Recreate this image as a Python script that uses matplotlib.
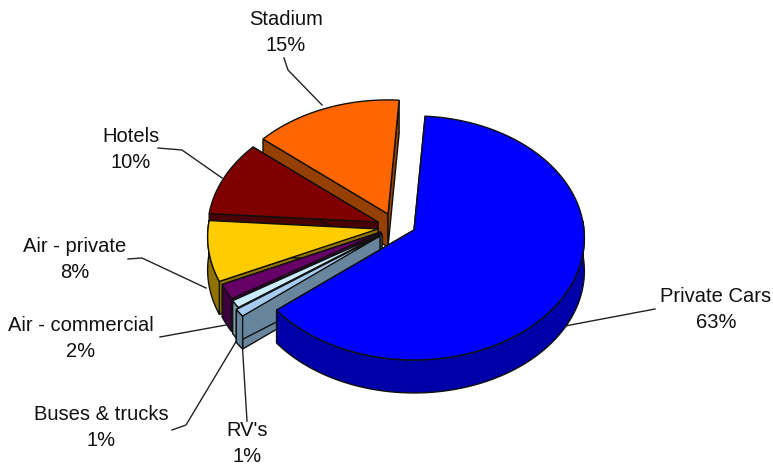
import numpy as np
import matplotlib
matplotlib.use("Agg")
import matplotlib.pyplot as plt

plt.rcParams['font.family'] = ['Liberation Sans', 'DejaVu Sans']

# pie values, in the order they run clockwise
labels = ["Private Cars", "RV's", "Buses & trucks", "Air - commercial", "Air - private", "Hotels", "Stadium"]
values = [63, 1, 1, 2, 8, 10, 15]

top_colors = ["#0000ff", "#a6caf0", "#ccecff", "#660066", "#ffcc00", "#800000", "#ff6600"]
wall_colors = ["#0000a8", "#67859c", "#7f9aa8", "#3c003c", "#8f7200", "#480000", "#954000"]

# where each slice's point sits after the explosion
apex_x = [414, 380, 382, 381, 378, 378, 388]
apex_y = [230, 236, 234, 232, 229, 222, 214]

start_angle = 4
A, B = 170, 121.5
persp = 0.065
depth = 33


def rim(cx, cy, deg):
    t = np.radians(deg)
    u = np.sin(t)
    v = -np.cos(t)
    w = 1 - persp * v
    return cx + A * u / w, cy + B * v / w


fig = plt.figure(figsize=(7.73, 4.66), dpi=100)
ax = fig.add_axes([0, 0, 1, 1])
ax.set_xlim(0, 773)
ax.set_ylim(466, 0)
ax.axis("off")

# leader lines go under the slices
leaders = [
    ([655, 565], [309, 326]),
    ([247, 242], [421, 340]),
    ([172, 186, 240], [430, 425, 335]),
    ([160, 226], [337, 325]),
    ([128, 142, 206], [259, 258, 288]),
    ([158, 182, 222], [148, 150, 178]),
    ([284, 288, 322], [58, 70, 105]),
]
for lx, ly in leaders:
    ax.plot(lx, ly, color="#222222", lw=1.0, zorder=1)

edges = np.cumsum([0] + values) * 3.6 + start_angle

# paint back to front: stadium first, private cars last
for i in [6, 5, 4, 3, 2, 1, 0]:
    cx, cy = apex_x[i], apex_y[i]
    a = np.linspace(edges[i], edges[i + 1], max(int(values[i] * 6), 6))
    rx, ry = rim(cx, cy, a)
    z = 2 + (6 - i)

    # the two cut faces
    for j in [0, -1]:
        ax.fill([cx, rx[j], rx[j], cx], [cy, ry[j], ry[j] + depth, cy + depth],
                fc=wall_colors[i], ec="#101010", lw=1.0, zorder=z)
    # outer wall, only the part of the rim facing the viewer
    front = np.cos(np.radians(a)) < 0.08
    if front.sum() > 1:
        fx, fy = rx[front], ry[front]
        ax.fill(np.r_[fx, fx[::-1]], np.r_[fy, fy[::-1] + depth], fc=wall_colors[i],
                ec="#101010", lw=1.0, zorder=z)
    # top face
    ax.fill(np.r_[cx, rx], np.r_[cy, ry], fc=top_colors[i], ec="#101010", lw=1.0, zorder=z)

label_x = [716, 247, 101, 81, 75, 131, 286]
label_y = [302, 436, 420, 331, 252, 142, 25]
for i in range(len(labels)):
    ax.text(label_x[i], label_y[i], labels[i], ha="center", va="baseline", fontsize=14.5, color="#111111")
    ax.text(label_x[i], label_y[i] + 26, f"{values[i]}%", ha="center", va="baseline", fontsize=14.5, color="#111111")

fig.savefig("out.png", dpi=100)
